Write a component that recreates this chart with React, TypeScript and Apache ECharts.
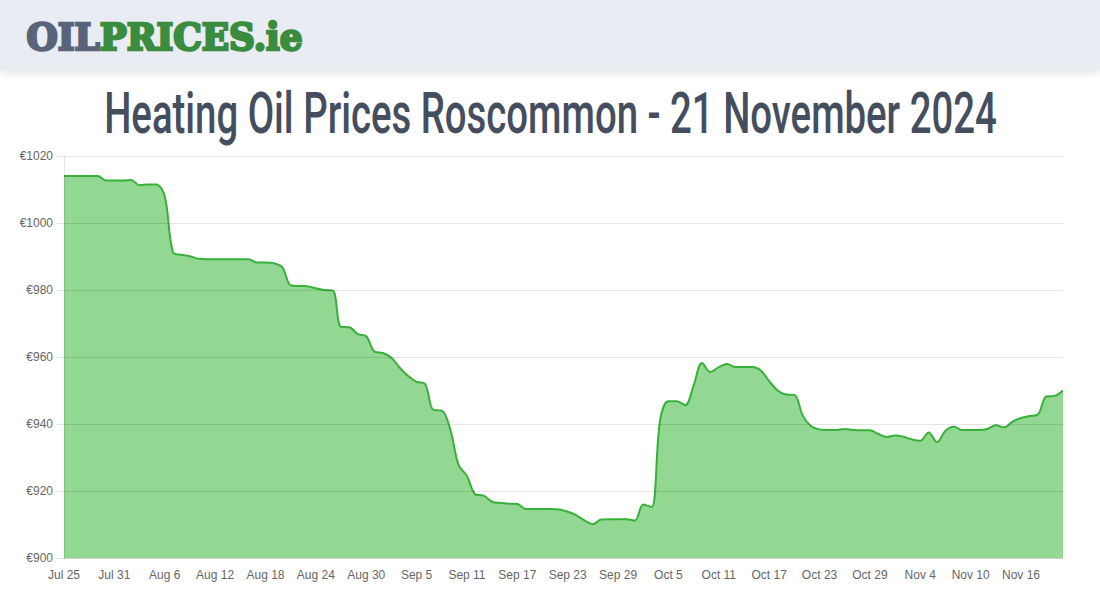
import React, { useEffect, useRef } from "react";
import * as echarts from "echarts";

const TITLE = "Heating Oil Prices Roscommon - 21 November 2024";
const LOGO_A = "OIL";
const LOGO_B = "PRICES.ie";

// Start date and day count for the category axis (Jul 25 .. Nov 21, 2024)
const MONTHS = ["Jan", "Feb", "Mar", "Apr", "May", "Jun", "Jul", "Aug", "Sep", "Oct", "Nov", "Dec"];
const MONTH_DAYS = [31, 29, 31, 30, 31, 30, 31, 31, 30, 31, 30, 31];
const START_MONTH = 6; // July
const START_DAY = 25;

const PRICES = [
  1014, 1014, 1014, 1014, 1014, 1012.7, 1012.7, 1012.7, 1012.8, 1011.3,
  1011.5, 1011.5, 1008, 991.2, 990.5, 990.1, 989.3, 989.2, 989.2, 989.2,
  989.2, 989.2, 989.2, 988.2, 988.2, 988, 986.8, 981.4, 981.2, 981.1,
  980.5, 980, 979.9, 969, 968.9, 966.8, 966.2, 961.6, 961.2, 959.8,
  956.8, 954.3, 952.6, 952, 944.2, 944, 938.5, 927.8, 924.5, 919,
  918.6, 916.8, 916.4, 916.2, 916.1, 914.6, 914.6, 914.6, 914.6, 914.5,
  913.8, 912.8, 911.2, 910.1, 911.5, 911.6, 911.6, 911.6, 911.2, 916,
  915.2, 941, 946.8, 946.8, 945.6, 951.5, 958.2, 955.5, 957, 957.9,
  957, 957, 957, 956, 952.8, 950, 948.8, 948.7, 942.5, 939.3,
  938.4, 938.2, 938.2, 938.5, 938.2, 938.1, 938.1, 937, 936.1, 936.6,
  936.2, 935.4, 935, 937.5, 934.6, 938, 939.2, 938.2, 938.2, 938.2,
  938.5, 939.6, 939, 940.7, 941.8, 942.4, 942.8, 948.2, 948.4, 950,
];

const Y_MIN = 900;
const Y_MAX = 1020;
const Y_STEP = 20;

function buildDates(count: number): string[] {
  const out: string[] = [];
  let m = START_MONTH;
  let d = START_DAY;
  for (let i = 0; i < count; i++) {
    out.push(`${MONTHS[m]} ${d}`);
    d++;
    if (d > MONTH_DAYS[m]) {
      d = 1;
      m = (m + 1) % 12;
    }
  }
  return out;
}

function measure(text: string, font: string): number {
  const c = document.createElement("canvas");
  const ctx = c.getContext("2d");
  if (!ctx) return text.length * 10;
  ctx.font = font;
  return ctx.measureText(text).width;
}

export default function App() {
  const ref = useRef<HTMLDivElement>(null);

  useEffect(() => {
    if (!ref.current) return;
    const chart = echarts.init(ref.current, undefined, { renderer: "svg" });
    const dates = buildDates(PRICES.length);

    const titleFont = "500 58px Roboto";
    const titleW = measure(TITLE, titleFont);
    const titleScale = 893 / titleW;

    const logoFont = "bold 37px 'DejaVu Serif'";
    const wA = measure(LOGO_A, logoFont);
    const wB = measure(LOGO_B, logoFont);
    const logoScale = 276 / (wA + wB);

    chart.setOption({
      animation: false,
      backgroundColor: "#ffffff",
      grid: { left: 64, right: 37, top: 156, bottom: 42 },
      graphic: [
        {
          type: "rect",
          left: 0,
          top: 0,
          z: 10,
          shape: { x: 0, y: 0, width: 1100, height: 70 },
          style: {
            fill: "#e9ecf3",
            shadowBlur: 10,
            shadowColor: "rgba(0,0,0,0.12)",
            shadowOffsetY: 2,
          },
        },
        {
          type: "text",
          x: 26.5,
          y: 37,
          scaleX: logoScale,
          z: 12,
          style: {
            text: LOGO_A,
            font: logoFont,
            fill: "#59637a",
            stroke: "#59637a",
            lineWidth: 2.6,
            verticalAlign: "middle",
            align: "left",
          },
        },
        {
          type: "text",
          x: 26.5 + wA * logoScale,
          y: 37,
          scaleX: logoScale,
          z: 12,
          style: {
            text: LOGO_B,
            font: logoFont,
            fill: "#3a8c3e",
            stroke: "#3a8c3e",
            lineWidth: 2.6,
            verticalAlign: "middle",
            align: "left",
          },
        },
        {
          type: "text",
          x: 550.5,
          y: 113,
          scaleX: titleScale,
          z: 12,
          style: {
            text: TITLE,
            font: titleFont,
            fill: "#454e5e",
            align: "center",
            verticalAlign: "middle",
          },
        },
      ],
      xAxis: {
        type: "category",
        boundaryGap: false,
        data: dates,
        axisLine: { show: true, lineStyle: { color: "#e6e6e6" } },
        axisTick: { show: false },
        splitLine: { show: false },
        axisLabel: {
          interval: 5,
          color: "#666666",
          fontSize: 12,
          fontFamily: "'Liberation Sans', Arial, sans-serif",
          margin: 11,
        },
      },
      yAxis: {
        type: "value",
        min: Y_MIN,
        max: Y_MAX,
        interval: Y_STEP,
        z: 3,
        axisLine: { show: true, lineStyle: { color: "rgba(0,0,0,0.1)" } },
        axisTick: { show: true, length: 8, lineStyle: { color: "rgba(0,0,0,0.1)" } },
        splitLine: { show: true, lineStyle: { color: "rgba(0,0,0,0.1)", width: 1 } },
        axisLabel: {
          color: "#666666",
          fontSize: 12,
          fontFamily: "'Liberation Sans', Arial, sans-serif",
          margin: 11,
          formatter: (v: number) => `€${v}`,
        },
      },
      series: [
        {
          type: "line",
          data: PRICES,
          smooth: 0.35,
          showSymbol: false,
          symbol: "none",
          z: 2,
          lineStyle: { color: "#38b03a", width: 2 },
          itemStyle: { color: "#38b03a" },
          areaStyle: { color: "#92d792", opacity: 1 },
        },
      ],
    });

    return () => {
      chart.dispose();
    };
  }, []);

  return (
    <div
      ref={ref}
      style={{ position: "absolute", left: 0, top: 0, width: 1100, height: 600 }}
    />
  );
}
